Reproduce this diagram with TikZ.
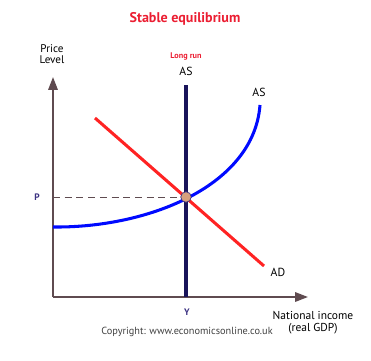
\documentclass[tikz,border=0pt]{standalone}
\usepackage{fontspec}
\setmainfont{PT Sans}
\usetikzlibrary{arrows.meta,positioning,calc}
\definecolor{axcol}{RGB}{95,75,80}
\definecolor{lrcol}{RGB}{25,20,90}
\definecolor{adcol}{RGB}{255,35,35}
\definecolor{ascol}{RGB}{0,10,255}
\definecolor{ttlcol}{RGB}{235,30,50}
\definecolor{lblcol}{RGB}{60,50,130}
\definecolor{eqcol}{RGB}{215,160,125}

\begin{document}
\begin{tikzpicture}[x=0.03cm,y=-0.03cm, ax/.style={line width=1.7pt, draw=axcol, -{Triangle[length=11pt,width=8pt]}}, crv/.style={line width=2.6pt}, lab/.style={font=\fontsize{9.5}{10.5}\selectfont, text=black}]
\useasboundingbox (0,0) rectangle (371,360);
% axes
\coordinate (O) at (53,297);
\coordinate (ytop) at (53,77);
\coordinate (xend) at (308,297);
\draw[ax] (O) -- (ytop);
\draw[ax] (O) -- (xend);
\node[lab, align=center] (plev) at (52,54) {Price\\[-1pt]Level};
\node[lab, font=\fontsize{9.8}{11}\selectfont, align=center] (natinc) at (313,323) {National income\\[-1pt](real GDP)};
% long run AS
\coordinate (lrtop) at (186,85);
\coordinate (lrbot) at (186,297);
\draw[crv, lrcol] (lrtop) -- (lrbot);
\node[lab, font=\fontsize{10}{11}\selectfont] (lras) at (186,71) {AS};
\node[font=\fontsize{7}{8}\selectfont\bfseries, text=ttlcol] (lrun) at (186,56) {Long run};
% AD
\coordinate (ad1) at (95,118);
\coordinate (ad2) at (264,266);
\draw[crv, adcol] (ad1) -- (ad2);
\node[lab, font=\fontsize{10}{11}\selectfont] (adl) at (278,272) {AD};
% AS
\coordinate (as1) at (53,227);
\coordinate (as2) at (260,105);
\draw[crv, ascol] (as1) .. controls (150,228) and (254,185) .. (as2);
\node[lab, font=\fontsize{10}{11}\selectfont] (asl) at (259,92) {AS};
% equilibrium
\node[circle, draw=lblcol, fill=eqcol, line width=0.6pt, inner sep=0pt, minimum size=9pt] (eq) at (186,197) {};
\draw[axcol, line width=0.7pt, dash pattern=on 6pt off 4pt] (O |- eq) -- (eq);
\node[font=\fontsize{8}{9}\selectfont\bfseries, text=lblcol] (pl) at (37,197) {P};
\node[font=\fontsize{8}{9}\selectfont\bfseries, text=lblcol] (yl) at (187,312) {Y};
% title and copyright
\node[font=\fontsize{12}{13}\selectfont\bfseries, text=ttlcol] (ttl) at (185,19) {Stable equilibrium};
\node[font=\fontsize{8.8}{10}\selectfont, text=black!75] (copy) at (187,332) {Copyright: www.economicsonline.co.uk};
\end{tikzpicture}
\end{document}
